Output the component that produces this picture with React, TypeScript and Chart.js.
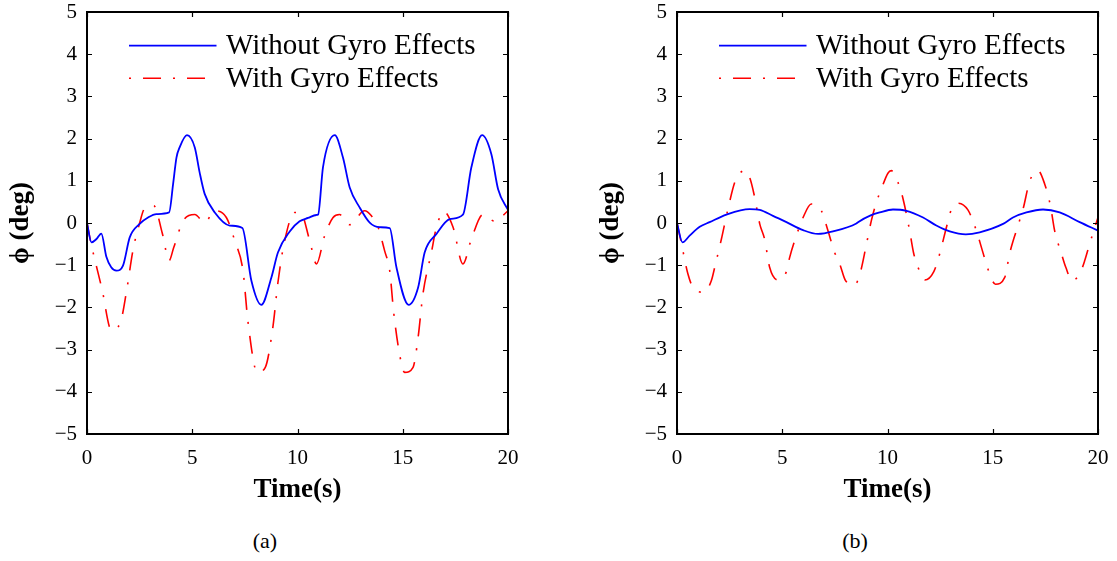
import React, { useEffect, useRef } from "react";
import { Chart, registerables } from "chart.js";

Chart.register(...registerables);

// ---------- data ----------
const xTickValues = [0, 5, 10, 15, 20];
const yTickValues = [-5, -4, -3, -2, -1, 0, 1, 2, 3, 4, 5];
const seriesLabels = ["Without Gyro Effects", "With Gyro Effects"];
const panelLabels = ["(a)", "(b)"];
const xAxisTitle = "Time(s)";
const yAxisTitle = "\u03D5 (deg)";

// Panel (a), without gyro effects
const timeA_without = [0, 0.21, 0.45, 0.68, 0.92, 1.15, 1.4, 1.71, 2.03, 2.5, 2.9, 3.3, 3.9, 4.09, 4.25, 4.4, 4.75, 5.12, 5.35, 5.59, 6.07, 6.78, 7.38, 7.81, 8.28, 8.76, 9.07, 9.63, 10.1, 10.5, 10.9, 10.98, 11.21, 11.77, 12.16, 12.48, 12.95, 13.43, 13.9, 14.38, 14.7, 15.28, 15.73, 16.04, 16.6, 17.23, 17.86, 18.26, 18.77, 19.21, 19.53, 20];
const phiA_without = [0, -0.46, -0.38, -0.25, -0.8, -1.05, -1.13, -1.01, -0.34, -0.02, 0.13, 0.21, 0.25, 0.92, 1.55, 1.79, 2.08, 1.79, 1.2, 0.69, 0.25, -0.06, -0.12, -1.37, -1.94, -1.29, -0.7, -0.2, 0.04, 0.12, 0.19, 0.2, 1.32, 2.08, 1.55, 0.84, 0.37, 0.01, -0.1, -0.12, -1.05, -1.94, -1.53, -0.7, -0.26, 0.09, 0.2, 1.32, 2.08, 1.63, 0.8, 0.31];

// Panel (a), with gyro effects
const timeA_with = [0, 0.2, 0.71, 1.16, 1.59, 1.87, 2.19, 2.5, 2.74, 3.17, 3.58, 3.9, 4.12, 4.59, 5.12, 5.59, 6.07, 6.62, 7.02, 7.41, 7.65, 8.09, 8.47, 8.84, 9.07, 9.39, 9.87, 10.14, 10.58, 10.9, 11.29, 11.69, 12.0, 12.48, 13.19, 13.51, 13.83, 14.14, 14.38, 14.57, 14.86, 15.09, 15.49, 15.73, 15.96, 16.36, 16.6, 16.95, 17.39, 17.86, 18.26, 18.81, 19.37, 20];
const phiA_with = [0, -0.5, -1.56, -2.54, -2.35, -1.64, -0.63, 0.0, 0.35, 0.41, -0.25, -0.89, -0.58, 0.07, 0.2, 0.01, 0.29, 0.13, -0.42, -1.13, -2.35, -3.54, -3.42, -2.43, -1.41, -0.42, 0.25, 0.25, -0.42, -0.97, -0.3, 0.13, 0.2, -0.04, 0.29, 0.17, -0.1, -0.66, -1.13, -2.12, -3.14, -3.54, -3.42, -2.71, -1.68, -0.7, -0.1, 0.27, -0.1, -0.97, -0.38, 0.2, 0.04, 0.29];

// Panel (b), without gyro effects
const timeB_without = [0, 0.26, 0.6, 1.08, 1.55, 2.35, 3.45, 3.93, 4.56, 5.2, 5.99, 6.7, 7.41, 8.52, 8.6, 9.2, 9.63, 10.26, 10.9, 11.69, 12.32, 12.96, 13.72, 14.38, 15.49, 15.96, 16.6, 17.39, 18.18, 19.13, 20];
const phiB_without = [0, -0.46, -0.3, -0.09, 0.02, 0.2, 0.33, 0.31, 0.17, 0.02, -0.17, -0.26, -0.2, -0.01, 0.02, 0.18, 0.25, 0.32, 0.29, 0.13, -0.06, -0.2, -0.27, -0.22, -0.02, 0.13, 0.25, 0.32, 0.25, 0.02, -0.18];

// Panel (b), with gyro effects
const timeB_with = [0, 0.2, 0.52, 0.79, 1.27, 1.63, 1.82, 2.11, 2.42, 2.77, 3.22, 3.45, 3.69, 3.93, 4.17, 4.4, 4.8, 5.2, 5.35, 5.59, 5.99, 6.38, 6.86, 7.17, 7.49, 7.73, 8.01, 8.44, 8.71, 9.0, 9.23, 9.47, 9.71, 10.02, 10.18, 10.5, 10.74, 11.05, 11.24, 11.45, 11.77, 12.2, 12.48, 12.8, 13.04, 13.35, 13.82, 14.22, 14.51, 14.77, 15.13, 15.57, 15.8, 16.12, 16.44, 16.76, 17.15, 17.47, 17.74, 17.94, 18.26, 18.47, 18.78, 19.16, 19.37, 19.6, 20];
const phiB_with = [0, -0.46, -1.21, -1.55, -1.64, -1.37, -0.99, -0.38, 0.33, 1.0, 1.24, 1.08, 0.61, -0.02, -0.4, -1.05, -1.35, -1.15, -0.82, -0.42, 0.13, 0.45, 0.29, -0.18, -0.7, -0.97, -1.37, -1.47, -1.17, -0.5, 0.05, 0.49, 0.81, 1.18, 1.24, 0.96, 0.57, -0.18, -0.71, -1.05, -1.35, -1.15, -0.73, -0.1, 0.33, 0.47, 0.31, -0.18, -0.66, -1.09, -1.45, -1.29, -0.73, -0.18, 0.33, 1.0, 1.24, 0.92, 0.41, -0.18, -0.72, -1.05, -1.37, -1.17, -0.89, -0.5, 0.13];

// ---------- styling ----------
const SERIF = '"Liberation Serif", "Times New Roman", "DejaVu Serif", serif';
const BLUE = "#0000ff";
const RED = "#ff0000";
const RED_DASH = [18, 12, 2, 12];
const LEGEND_DASH = [2, 12, 18, 12];

const CANVAS_W = 527;
const CANVAS_H = 520;

function zip(ts: number[], vs: number[]) {
  return ts.map((t, i) => ({ x: t, y: vs[i] }));
}

function fmtMinus(v: number) {
  return v < 0 ? "\u2212" + Math.abs(v) : String(v);
}

const boxPlugin = {
  id: "matlabBox",
  afterDatasetsDraw(chart: any) {
    const { ctx, chartArea, scales } = chart;
    const { left, right, top, bottom } = chartArea;
    const xs = scales.x;
    const ys = scales.y;
    ctx.save();
    ctx.strokeStyle = "#000";
    ctx.lineWidth = 1.2;
    ctx.setLineDash([]);
    const tl = 5;
    ctx.beginPath();
    xs.ticks.forEach((t: any) => {
      const px = Math.round(xs.getPixelForValue(t.value)) + 0.5;
      ctx.moveTo(px, bottom);
      ctx.lineTo(px, bottom - tl);
      ctx.moveTo(px, top);
      ctx.lineTo(px, top + tl);
    });
    ys.ticks.forEach((t: any) => {
      const py = Math.round(ys.getPixelForValue(t.value)) + 0.5;
      ctx.moveTo(left, py);
      ctx.lineTo(left + tl, py);
      ctx.moveTo(right, py);
      ctx.lineTo(right - tl, py);
    });
    ctx.stroke();
    ctx.lineWidth = 2;
    ctx.strokeRect(left, top, right - left, bottom - top);

    // legend
    const ds = chart.data.datasets;
    const lx0 = left + 42;
    const lx1 = left + 129.5;
    const tx = left + 139;
    const rows = [top + 33.6, top + 66.3];
    ds.forEach((d: any, i: number) => {
      const y = rows[i];
      ctx.save();
      ctx.strokeStyle = d.borderColor;
      ctx.lineWidth = d.borderWidth;
      ctx.setLineDash(i === 1 ? LEGEND_DASH : []);
      ctx.beginPath();
      ctx.moveTo(lx0, y);
      ctx.lineTo(lx1, y);
      ctx.stroke();
      ctx.restore();
      ctx.fillStyle = "#000";
      ctx.font = `29px ${SERIF}`;
      ctx.textAlign = "left";
      ctx.textBaseline = "middle";
      ctx.fillText(d.label, tx, y + 1);
    });
    ctx.restore();
  },
};

function Panel({ tW, vW, tG, vG }: { tW: number[]; vW: number[]; tG: number[]; vG: number[] }) {
  const ref = useRef<HTMLCanvasElement | null>(null);
  useEffect(() => {
    if (!ref.current) return;
    const chart = new Chart(ref.current, {
      type: "line",
      data: {
        datasets: [
          {
            label: seriesLabels[0],
            data: zip(tW, vW),
            borderColor: BLUE,
            backgroundColor: BLUE,
            borderWidth: 1.8,
            pointRadius: 0,
            cubicInterpolationMode: "monotone",
            fill: false,
          },
          {
            label: seriesLabels[1],
            data: zip(tG, vG),
            borderColor: RED,
            backgroundColor: RED,
            borderWidth: 1.6,
            borderDash: RED_DASH,
            pointRadius: 0,
            cubicInterpolationMode: "monotone",
            fill: false,
          },
        ],
      },
      options: {
        responsive: false,
        animation: false,
        devicePixelRatio: 1,
        layout: { padding: { left: 0, right: 19, top: 12, bottom: 0 } },
        plugins: { legend: { display: false }, tooltip: { enabled: false } },
        scales: {
          x: {
            type: "linear",
            min: xTickValues[0],
            max: xTickValues[xTickValues.length - 1],
            afterBuildTicks: (s: any) => {
              s.ticks = xTickValues.map((v) => ({ value: v }));
            },
            afterFit: (s: any) => {
              s.height = 86;
              s.paddingLeft = 0;
              s.paddingRight = 0;
            },
            grid: { display: false, drawTicks: false },
            border: { display: false },
            ticks: {
              padding: 12,
              color: "#000",
              font: { family: SERIF, size: 21 },
              callback: (v: any) => fmtMinus(Number(v)),
            },
            title: {
              display: true,
              text: xAxisTitle,
              color: "#000",
              font: { family: SERIF, size: 27, weight: "bold" },
              padding: { top: 0, bottom: 14 },
            },
          },
          y: {
            type: "linear",
            min: yTickValues[0],
            max: yTickValues[yTickValues.length - 1],
            afterBuildTicks: (s: any) => {
              s.ticks = yTickValues.map((v) => ({ value: v }));
            },
            afterFit: (s: any) => {
              s.width = 87;
              s.paddingTop = 0;
              s.paddingBottom = 0;
            },
            grid: { display: false, drawTicks: false },
            border: { display: false },
            ticks: {
              padding: 10,
              color: "#000",
              font: { family: SERIF, size: 21 },
              callback: (v: any) => fmtMinus(Number(v)),
            },
            title: {
              display: true,
              text: yAxisTitle,
              color: "#000",
              font: { family: SERIF, size: 27, weight: "bold" },
              padding: { top: 5, bottom: 0 },
            },
          },
        },
      },
      plugins: [boxPlugin],
    } as any);
    return () => chart.destroy();
  }, []);
  return <canvas ref={ref} width={CANVAS_W} height={CANVAS_H} style={{ width: CANVAS_W, height: CANVAS_H, display: "block" }} />;
}

export default function App() {
  const labelStyle: React.CSSProperties = {
    position: "absolute",
    top: 530,
    width: 80,
    textAlign: "center",
    fontFamily: SERIF,
    fontSize: 22,
    lineHeight: "22px",
    color: "#000",
  };
  return (
    <div style={{ position: "absolute", left: 0, top: 0, width: 1117, height: 561, background: "#fff" }}>
      <div style={{ position: "absolute", left: 0, top: 0 }}>
        <Panel tW={timeA_without} vW={phiA_without} tG={timeA_with} vG={phiA_with} />
      </div>
      <div style={{ position: "absolute", left: 590, top: 0 }}>
        <Panel tW={timeB_without} vW={phiB_without} tG={timeB_with} vG={phiB_with} />
      </div>
      <div style={{ ...labelStyle, left: 265 - 40 }}>{panelLabels[0]}</div>
      <div style={{ ...labelStyle, left: 855 - 40 }}>{panelLabels[1]}</div>
    </div>
  );
}
